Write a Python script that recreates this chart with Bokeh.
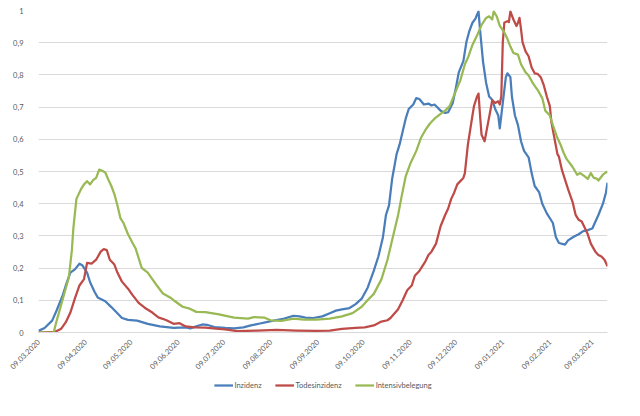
import math
import pandas as pd
from bokeh.plotting import figure
from bokeh.layouts import column
from bokeh.models import (ColumnDataSource, Range1d, FixedTicker, DatetimeTickFormatter,
                          CustomJSTickFormatter, Legend, LegendItem)
from bokeh.embed import file_html
from bokeh.resources import INLINE

START = "2020-03-09"
END_DAY = 375
TICK_DATES = ["2020-03-09", "2020-04-09", "2020-05-09", "2020-06-09", "2020-07-09",
              "2020-08-09", "2020-09-09", "2020-10-09", "2020-11-09", "2020-12-09",
              "2021-01-09", "2021-02-09", "2021-03-09"]
Y_TICKS = [0, 0.1, 0.2, 0.3, 0.4, 0.5, 0.6, 0.7, 0.8, 0.9, 1.0]

# day offsets since 09.03.2020 and normalised values
inz_days = [0, 4, 9, 12, 16, 18, 21, 24, 27, 29, 32, 34, 37, 39, 44, 48, 52, 55, 59, 65,
            72, 80, 89, 97, 100, 104, 108, 111, 116, 123, 129, 135, 140, 146, 151, 156,
            162, 168, 172, 176, 181, 187, 192, 196, 200, 205, 209, 213, 217, 221, 224,
            227, 229, 231, 233, 236, 238, 240, 242, 244, 247, 249, 251, 254, 257, 259,
            261, 265, 268, 270, 273, 275, 277, 280, 282, 284, 286, 288, 289, 290, 291,
            293, 295, 297, 299, 301, 303, 304, 306, 308, 309, 311, 312, 314, 316, 318,
            320, 323, 325, 327, 330, 332, 335, 339, 341, 343, 347, 349, 353, 356, 359,
            362, 365, 369, 372, 374, 375]
inz_vals = [0.005, 0.014, 0.037, 0.069, 0.116, 0.146, 0.186, 0.196, 0.214, 0.208, 0.186,
            0.156, 0.126, 0.109, 0.097, 0.079, 0.060, 0.045, 0.039, 0.037, 0.027, 0.019,
            0.014, 0.016, 0.013, 0.019, 0.025, 0.024, 0.017, 0.014, 0.013, 0.016, 0.022,
            0.028, 0.033, 0.038, 0.043, 0.052, 0.050, 0.046, 0.045, 0.050, 0.060, 0.068,
            0.072, 0.076, 0.088, 0.105, 0.140, 0.192, 0.236, 0.296, 0.365, 0.395, 0.475,
            0.554, 0.584, 0.624, 0.664, 0.694, 0.708, 0.728, 0.725, 0.708, 0.711, 0.705,
            0.708, 0.689, 0.682, 0.684, 0.713, 0.758, 0.808, 0.843, 0.902, 0.937, 0.962,
            0.975, 0.987, 0.997, 0.940, 0.840, 0.775, 0.733, 0.723, 0.694, 0.674, 0.634,
            0.713, 0.793, 0.805, 0.793, 0.733, 0.674, 0.644, 0.594, 0.564, 0.544, 0.495,
            0.455, 0.435, 0.400, 0.370, 0.340, 0.296, 0.278, 0.273, 0.286, 0.298, 0.305,
            0.315, 0.318, 0.323, 0.365, 0.400, 0.435, 0.465]

tod_days = [0, 11, 15, 18, 21, 24, 27, 30, 32, 35, 38, 41, 43, 45, 47, 50, 52, 55, 59, 62,
            66, 70, 75, 79, 84, 89, 93, 97, 103, 110, 117, 123, 131, 144, 157, 170, 183,
            192, 200, 209, 215, 221, 226, 230, 232, 237, 240, 243, 246, 248, 251, 253,
            255, 257, 259, 262, 265, 268, 270, 272, 274, 276, 280, 281, 283, 285, 286,
            287, 289, 290, 291, 292, 294, 296, 298, 299, 301, 303, 304, 305, 306, 307,
            309, 310, 311, 313, 315, 316, 317, 318, 319, 321, 323, 325, 327, 329, 331,
            333, 335, 337, 338, 340, 342, 343, 345, 347, 349, 352, 354, 356, 358, 360,
            362, 364, 367, 369, 371, 373, 375]
tod_vals = [0.000, 0.002, 0.012, 0.032, 0.062, 0.106, 0.146, 0.166, 0.216, 0.214, 0.226,
            0.251, 0.259, 0.256, 0.226, 0.211, 0.186, 0.158, 0.136, 0.116, 0.092, 0.077,
            0.062, 0.047, 0.039, 0.027, 0.029, 0.019, 0.016, 0.015, 0.012, 0.010, 0.004,
            0.006, 0.008, 0.006, 0.005, 0.006, 0.011, 0.014, 0.016, 0.022, 0.034, 0.038,
            0.045, 0.072, 0.100, 0.131, 0.146, 0.176, 0.191, 0.206, 0.221, 0.241, 0.251,
            0.276, 0.330, 0.365, 0.385, 0.415, 0.435, 0.460, 0.480, 0.495, 0.584, 0.644,
            0.674, 0.703, 0.733, 0.742, 0.674, 0.614, 0.594, 0.644, 0.694, 0.721, 0.713,
            0.718, 0.708, 0.733, 0.902, 0.962, 0.967, 0.964, 0.997, 0.972, 0.952, 0.962,
            0.977, 0.942, 0.902, 0.873, 0.858, 0.823, 0.805, 0.803, 0.793, 0.768, 0.733,
            0.703, 0.654, 0.604, 0.554, 0.546, 0.504, 0.475, 0.445, 0.405, 0.365, 0.350,
            0.345, 0.325, 0.305, 0.276, 0.251, 0.241, 0.236, 0.226, 0.206]

its_days = [0, 10, 12, 15, 17, 20, 22, 23, 25, 28, 30, 32, 34, 36, 38, 40, 42, 44, 46, 48,
            50, 52, 54, 56, 59, 62, 64, 66, 68, 72, 75, 78, 82, 87, 90, 95, 99, 104, 110,
            119, 125, 129, 138, 142, 149, 153, 160, 168, 175, 183, 192, 200, 207, 213,
            217, 221, 226, 230, 233, 237, 239, 242, 245, 249, 252, 255, 258, 261, 265,
            268, 271, 274, 278, 281, 283, 286, 289, 292, 295, 297, 299, 300, 302, 304,
            307, 309, 311, 313, 316, 318, 321, 323, 326, 329, 332, 334, 337, 339, 342,
            344, 346, 348, 352, 355, 357, 360, 362, 364, 366, 368, 369, 372, 374, 375]
its_vals = [0.000, 0.000, 0.037, 0.087, 0.121, 0.171, 0.256, 0.325, 0.415, 0.445, 0.460,
            0.470, 0.460, 0.473, 0.480, 0.506, 0.502, 0.497, 0.475, 0.455, 0.430, 0.395,
            0.355, 0.340, 0.305, 0.278, 0.261, 0.231, 0.201, 0.186, 0.166, 0.146, 0.121,
            0.108, 0.097, 0.080, 0.075, 0.064, 0.063, 0.056, 0.050, 0.046, 0.043, 0.048,
            0.046, 0.038, 0.036, 0.043, 0.040, 0.040, 0.043, 0.050, 0.060, 0.080, 0.101,
            0.120, 0.165, 0.226, 0.286, 0.365, 0.415, 0.485, 0.524, 0.564, 0.604, 0.629,
            0.649, 0.664, 0.679, 0.689, 0.703, 0.738, 0.783, 0.833, 0.853, 0.893, 0.922,
            0.955, 0.977, 0.982, 0.972, 0.997, 0.982, 0.952, 0.932, 0.912, 0.888, 0.868,
            0.863, 0.833, 0.808, 0.798, 0.773, 0.753, 0.728, 0.689, 0.674, 0.644, 0.604,
            0.584, 0.559, 0.539, 0.514, 0.490, 0.495, 0.485, 0.477, 0.495, 0.480, 0.478,
            0.472, 0.490, 0.497, 0.500]

SERIES = [("Inzidenz", inz_days, inz_vals, "#4A7EBB"),
          ("Todesinzidenz", tod_days, tod_vals, "#BE4B48"),
          ("Intensivbelegung", its_days, its_vals, "#98B954")]

start = pd.Timestamp(START)
FONT = "Lato"
FS = "7.5px"
GRAY = "#595959"
LW = 2.25

p = figure(width=624, height=379, output_backend="svg", toolbar_location=None,
           x_axis_type="datetime",
           x_range=Range1d(start, start + pd.Timedelta(days=END_DAY)),
           y_range=Range1d(0, 1),
           min_border_left=38, min_border_right=17, min_border_top=10, min_border_bottom=47)
p.outline_line_color = None
p.background_fill_color = "white"
p.border_fill_color = "white"

for name, d, v, c in SERIES:
    src = ColumnDataSource(dict(x=start + pd.to_timedelta(d, unit="D"), y=v))
    p.line("x", "y", source=src, line_color=c, line_width=LW, line_join="round")

p.xgrid.grid_line_color = None
p.ygrid.grid_line_color = "#D9D9D9"
p.ygrid.grid_line_width = 1

p.yaxis.ticker = FixedTicker(ticks=Y_TICKS)
p.yaxis.formatter = CustomJSTickFormatter(
    code="return tick.toFixed(1).replace('.', ',').replace(',0', '');")
p.yaxis.axis_line_color = None
p.yaxis.major_tick_line_color = None
p.yaxis.minor_tick_line_color = None
p.yaxis.major_label_standoff = 9

tick_ms = [pd.Timestamp(t).value // 10**6 for t in TICK_DATES]
p.xaxis.ticker = FixedTicker(ticks=tick_ms)
fmt = "%d.%m.%Y"
p.xaxis.formatter = DatetimeTickFormatter(microseconds=fmt, milliseconds=fmt, seconds=fmt,
                                          minsec=fmt, minutes=fmt, hourmin=fmt, hours=fmt,
                                          days=fmt, months=fmt, years=fmt)
p.xaxis.major_label_orientation = math.pi / 4
p.xaxis.axis_line_color = "#D9D9D9"
p.xaxis.major_tick_line_color = None
p.xaxis.minor_tick_line_color = None
p.xaxis.major_label_standoff = 2

for ax in (p.xaxis, p.yaxis):
    ax.major_label_text_font = FONT
    ax.major_label_text_font_size = FS
    ax.major_label_text_color = GRAY

# legend strip below the chart
lg = figure(width=624, height=21, output_backend="svg", toolbar_location=None,
            x_range=Range1d(0, 1), y_range=Range1d(0, 1), min_border=0)
lg.axis.visible = False
lg.grid.grid_line_color = None
lg.outline_line_color = None
lg.background_fill_color = "white"
lg.border_fill_color = "white"
items = []
for name, d, v, c in SERIES:
    r = lg.line(x=[float("nan")], y=[float("nan")], line_color=c, line_width=LW)
    items.append(LegendItem(label=name, renderers=[r]))
legend = Legend(items=items, orientation="horizontal", location="top",
                label_standoff=2, spacing=13, glyph_width=19, glyph_height=10,
                label_height=10, padding=0, margin=1,
                border_line_alpha=0, background_fill_alpha=0,
                label_text_font=FONT, label_text_font_size=FS, label_text_color=GRAY)
lg.add_layout(legend, "center")

layout = column(p, lg, spacing=0)
open("out.html", "w").write(file_html(layout, INLINE))
